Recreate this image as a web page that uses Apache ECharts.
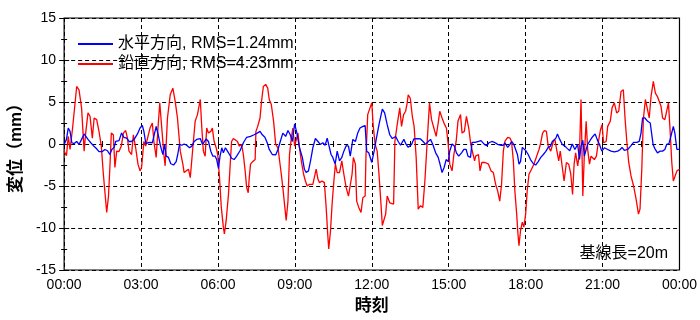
<!DOCTYPE html>
<html>
<head>
<meta charset="utf-8">
<script src="https://cdn.jsdelivr.net/npm/echarts@6/dist/echarts.min.js"></script>
<style>
  html, body { margin: 0; padding: 0; background: #fff; }
  #chart { width: 700px; height: 320px; }
</style>
</head>
<body>
<div id="chart"></div>
<script>
// time in hours from 00:00, displacement in mm
const horizontal = [
  [0.00,-0.05],[0.09,0.55],[0.16,1.9],[0.23,1.5],[0.30,0.15],[0.39,0.05],[0.49,0.3],[0.58,-0.05],[0.68,0.55],[0.78,1.2],
  [0.84,1.1],[0.93,0.55],[1.04,0.15],[1.14,-0.2],[1.23,-0.45],[1.36,-0.9],[1.49,-0.9],[1.59,-0.65],[1.69,-0.8],[1.78,-1.25],
  [1.86,-0.65],[1.95,-0.4],[2.01,0.3],[2.14,0.4],[2.24,1.3],[2.33,0.8],[2.44,0.7],[2.53,0.3],[2.63,0.3],[2.75,0.65],
  [2.86,1.2],[2.96,1.9],[3.05,2.2],[3.11,1.5],[3.19,0.0],[3.27,0.15],[3.35,0.2],[3.44,0.15],[3.50,0.9],[3.59,2.1],
  [3.67,1.1],[3.76,-0.25],[3.85,-1.25],[3.92,-0.05],[3.98,-1.45],[4.07,-1.6],[4.16,-2.35],[4.27,-2.5],[4.37,-2.1],[4.43,-1.25],
  [4.50,-0.05],[4.59,-0.15],[4.68,0.0],[4.78,-0.15],[4.89,-0.45],[4.98,-0.25],[5.07,0.3],[5.17,0.55],[5.31,0.65],[5.40,-0.05],
  [5.46,-0.25],[5.54,0.6],[5.63,0.3],[5.72,-0.85],[5.80,-1.45],[5.89,-1.45],[5.95,-1.85],[6.02,-2.9],[6.08,-1.45],[6.15,-0.45],
  [6.21,-1.05],[6.29,-0.45],[6.37,-0.85],[6.45,-1.25],[6.53,-1.7],[6.63,-1.85],[6.73,-1.45],[6.86,-0.8],[6.99,0.15],[7.12,0.8],
  [7.27,0.9],[7.41,1.1],[7.53,1.3],[7.64,1.5],[7.73,1.1],[7.83,0.8],[7.92,0.15],[8.00,-0.65],[8.12,-1.25],[8.25,-1.3],
  [8.34,-0.65],[8.43,0.3],[8.53,1.3],[8.64,0.9],[8.73,1.6],[8.82,1.1],[8.90,0.3],[8.99,2.4],[9.08,1.3],[9.18,-0.45],
  [9.29,-1.6],[9.37,-3.0],[9.44,-3.4],[9.53,-3.2],[9.61,-2.0],[9.70,-0.45],[9.80,0.65],[9.90,0.3],[9.99,-0.05],[10.09,0.15],
  [10.18,-0.15],[10.26,0.7],[10.32,0.55],[10.41,-1.25],[10.48,-1.6],[10.57,-2.4],[10.65,-0.85],[10.74,-2.0],[10.83,-1.6],[10.91,-0.85],
  [11.00,-0.2],[11.09,-0.25],[11.16,-1.45],[11.26,0.55],[11.36,0.3],[11.45,1.3],[11.54,1.9],[11.65,2.1],[11.74,2.2],[11.80,-0.85],
  [11.88,-1.05],[12.00,-2.2],[12.09,-0.85],[12.18,0.7],[12.28,2.3],[12.41,4.15],[12.50,3.7],[12.60,2.3],[12.70,1.1],[12.80,0.65],
  [12.93,0.9],[13.03,0.3],[13.12,-0.15],[13.25,0.55],[13.34,-0.05],[13.42,-0.4],[13.55,-0.05],[13.64,0.6],[13.77,0.65],[13.90,0.6],
  [14.00,0.3],[14.10,-0.05],[14.20,0.3],[14.29,0.55],[14.38,-0.05],[14.49,-1.05],[14.59,-1.6],[14.66,-2.4],[14.74,-3.4],[14.82,-2.8],
  [14.90,-1.85],[14.98,-2.1],[15.04,-0.85],[15.13,0.0],[15.22,-0.25],[15.30,-1.05],[15.39,-1.45],[15.50,-1.05],[15.59,-0.65],[15.68,-0.65],
  [15.75,-1.45],[15.85,-1.6],[15.91,0.2],[16.03,0.2],[16.16,0.3],[16.26,0.4],[16.31,0.55],[16.39,-0.05],[16.48,-0.2],[16.57,0.15],
  [16.68,0.3],[16.78,0.2],[16.91,-0.05],[17.04,-0.15],[17.13,-0.15],[17.19,0.15],[17.30,-0.4],[17.39,-0.05],[17.45,0.3],[17.54,-0.05],
  [17.61,-0.2],[17.68,-1.25],[17.74,-2.4],[17.80,-2.1],[17.87,-0.4],[17.93,-0.2],[18.01,-0.8],[18.10,-1.25],[18.19,-1.85],[18.30,-2.35],
  [18.39,-2.5],[18.49,-2.1],[18.59,-1.6],[18.69,-1.25],[18.78,-0.9],[18.88,-0.4],[18.97,-0.25],[19.04,0.3],[19.11,0.15],[19.18,0.7],
  [19.24,1.2],[19.33,0.55],[19.43,-0.05],[19.53,-0.25],[19.63,-0.55],[19.72,-0.8],[19.82,0.0],[19.92,-0.65],[19.97,-0.65],[20.03,-0.05],
  [20.10,-1.85],[20.16,-0.25],[20.23,0.45],[20.29,-1.45],[20.36,-0.65],[20.42,-0.05],[20.52,0.45],[20.62,0.9],[20.71,1.2],[20.79,0.55],
  [20.88,-0.05],[20.97,-0.85],[21.07,-0.45],[21.20,-0.65],[21.33,-0.85],[21.46,-0.95],[21.59,-0.85],[21.69,-0.65],[21.76,-0.4],[21.85,-0.75],
  [21.98,-0.65],[22.11,-0.2],[22.21,0.2],[22.34,0.2],[22.43,0.3],[22.50,1.3],[22.56,3.1],[22.65,3.1],[22.76,2.7],[22.86,2.5],
  [22.91,2.7],[22.97,-0.05],[23.04,-0.55],[23.14,-1.05],[23.25,-0.85],[23.34,-0.85],[23.43,-0.65],[23.50,-0.05],[23.59,0.05],[23.68,1.1],
  [23.76,2.1],[23.82,1.3],[23.86,0.3],[23.90,-0.65],[24.00,-0.65]
];

const vertical = [
  [0.00,-0.85],[0.09,-1.4],[0.16,0.9],[0.23,-0.65],[0.33,1.9],[0.42,4.7],[0.49,6.85],[0.58,6.45],[0.68,4.3],[0.78,-0.85],
  [0.84,1.3],[0.93,3.7],[1.01,3.3],[1.10,0.7],[1.17,3.1],[1.27,2.9],[1.36,1.5],[1.45,-0.25],[1.53,-3.6],[1.61,-6.4],
  [1.66,-8.15],[1.73,-6.2],[1.79,-2.4],[1.84,1.3],[1.92,1.1],[1.98,-2.8],[2.05,-0.85],[2.14,-0.9],[2.23,-0.25],[2.31,1.3],
  [2.40,1.6],[2.47,0.7],[2.53,-0.85],[2.63,-1.25],[2.70,1.1],[2.79,-0.45],[2.88,-2.4],[2.96,-3.2],[3.02,-2.8],[3.11,0.3],
  [3.18,-0.25],[3.27,0.9],[3.35,1.9],[3.44,2.5],[3.50,0.3],[3.59,-1.6],[3.66,1.9],[3.73,4.9],[3.80,4.7],[3.89,-1.25],
  [3.94,-2.6],[4.03,3.1],[4.14,5.9],[4.24,6.65],[4.33,5.1],[4.42,3.1],[4.53,-0.85],[4.63,-2.4],[4.68,-3.4],[4.76,-3.2],
  [4.85,-3.0],[4.92,-4.0],[5.02,-0.45],[5.11,2.7],[5.20,3.5],[5.31,5.3],[5.37,1.9],[5.43,-0.85],[5.50,-1.45],[5.56,1.9],
  [5.63,1.3],[5.72,1.5],[5.78,1.9],[5.85,0.3],[5.93,-0.45],[5.99,-1.25],[6.06,-4.0],[6.13,-7.55],[6.21,-9.9],[6.25,-10.7],
  [6.32,-9.1],[6.41,-6.0],[6.47,-2.8],[6.53,0.3],[6.60,0.65],[6.67,0.7],[6.76,0.3],[6.83,-0.25],[6.92,-0.05],[6.99,-1.25],
  [7.06,-3.2],[7.12,-5.2],[7.18,-5.8],[7.22,-4.0],[7.27,-2.4],[7.35,-2.1],[7.45,-1.85],[7.48,1.5],[7.55,2.1],[7.64,3.1],
  [7.70,5.1],[7.77,6.85],[7.86,7.1],[7.94,6.65],[8.00,5.3],[8.08,4.7],[8.17,2.7],[8.25,-0.05],[8.34,-0.45],[8.40,-0.25],
  [8.47,-3.6],[8.53,-5.2],[8.60,-5.4],[8.66,-9.1],[8.73,-6.8],[8.79,-1.25],[8.86,0.7],[8.92,1.9],[8.99,-0.25],[9.05,-0.05],
  [9.12,1.3],[9.18,-0.45],[9.25,-2.0],[9.34,-3.6],[9.41,-4.4],[9.48,-5.0],[9.57,-4.8],[9.64,-5.0],[9.70,-4.8],[9.76,-5.0],
  [9.83,-3.0],[9.90,-4.2],[9.96,-4.6],[10.06,-4.4],[10.15,-4.6],[10.22,-7.55],[10.28,-10.7],[10.32,-12.5],[10.39,-10.3],[10.45,-7.2],
  [10.52,-4.4],[10.58,-2.4],[10.65,-3.4],[10.74,-3.4],[10.83,-2.0],[10.91,-3.6],[11.00,-5.2],[11.09,-6.2],[11.16,-6.4],[11.23,-3.6],
  [11.28,-1.6],[11.36,-2.4],[11.41,-6.8],[11.49,-7.55],[11.58,-8.15],[11.65,-6.4],[11.74,-6.2],[11.77,-1.6],[11.84,3.5],[11.93,4.3],
  [12.00,4.9],[12.05,2.3],[12.13,-0.05],[12.21,-0.85],[12.28,-3.6],[12.35,-6.8],[12.41,-9.7],[12.47,-9.7],[12.54,-8.35],[12.60,-6.2],
  [12.70,-7.0],[12.77,-7.0],[12.85,-7.15],[12.90,0.3],[12.99,2.3],[13.09,4.3],[13.16,2.1],[13.24,3.5],[13.32,3.9],[13.38,4.9],
  [13.42,5.85],[13.50,5.45],[13.58,3.3],[13.65,2.1],[13.73,-1.6],[13.81,-7.75],[13.90,-7.35],[13.99,-7.55],[14.07,-4.4],[14.16,0.3],
  [14.25,4.9],[14.33,2.9],[14.42,1.9],[14.51,0.9],[14.59,2.5],[14.65,3.9],[14.74,3.1],[14.84,2.3],[14.91,1.9],[14.98,-0.05],
  [15.04,-2.4],[15.13,-3.2],[15.20,-1.25],[15.29,0.3],[15.36,2.7],[15.46,3.5],[15.52,1.3],[15.61,1.5],[15.69,3.3],[15.78,1.9],
  [15.86,-0.05],[15.95,-1.25],[16.01,-2.0],[16.05,-1.45],[16.16,-1.25],[16.22,-3.2],[16.29,-2.2],[16.42,-2.2],[16.55,-2.4],[16.65,-3.2],
  [16.74,-3.4],[16.83,-4.8],[16.91,-5.6],[16.99,-6.8],[17.06,-4.8],[17.13,-0.85],[17.19,0.3],[17.30,0.8],[17.39,0.7],[17.45,0.3],
  [17.52,-2.0],[17.58,-5.6],[17.65,-8.35],[17.70,-10.7],[17.74,-12.1],[17.80,-10.3],[17.87,-9.3],[17.93,-9.9],[18.00,-8.35],[18.06,-5.6],
  [18.13,-3.6],[18.23,-3.0],[18.32,-2.4],[18.43,-1.45],[18.52,-0.65],[18.59,0.15],[18.66,1.3],[18.73,1.6],[18.81,1.5],[18.88,-0.25],
  [18.98,-0.85],[19.08,0.3],[19.14,0.55],[19.22,-0.85],[19.29,-2.0],[19.35,-0.85],[19.43,-2.8],[19.50,-4.4],[19.59,-2.2],[19.68,-2.4],
  [19.76,-3.6],[19.83,-6.0],[19.89,-2.4],[19.95,-1.05],[20.03,-2.6],[20.10,-1.05],[20.16,5.3],[20.23,-6.2],[20.29,-1.25],[20.36,2.7],
  [20.42,-0.65],[20.49,-2.4],[20.55,-1.45],[20.62,-1.6],[20.68,-1.85],[20.76,-1.45],[20.84,0.3],[20.92,1.7],[20.98,2.3],[21.04,0.15],
  [21.14,0.3],[21.20,2.1],[21.30,2.7],[21.37,4.3],[21.46,4.9],[21.55,3.7],[21.63,3.9],[21.72,6.25],[21.81,6.45],[21.88,2.9],
  [21.95,0.15],[22.02,-2.2],[22.11,-3.8],[22.21,-5.0],[22.31,-6.6],[22.40,-8.35],[22.46,-7.75],[22.53,-3.0],[22.59,2.9],[22.67,5.3],
  [22.73,5.45],[22.82,3.1],[22.89,5.65],[22.98,7.45],[23.06,6.05],[23.14,5.65],[23.21,5.85],[23.28,4.5],[23.34,3.1],[23.43,2.9],
  [23.50,3.1],[23.57,4.9],[23.64,1.3],[23.70,-2.2],[23.76,-4.4],[23.83,-3.8],[23.90,-3.2],[24.00,-3.0]
];

const seriesNames = ['水平方向, RMS=1.24mm', '鉛直方向, RMS=4.23mm'];
const yTicks = [-15, -10, -5, 0, 5, 10, 15];
const baselineNote = '基線長=20m';

const FONT = "'Liberation Sans', 'Noto Sans CJK JP', sans-serif";
const chart = echarts.init(document.getElementById('chart'), null, { renderer: 'canvas' });

const hourLabel = v => String(Math.round(v) % 24).padStart(2, '0') + ':00';

const tickCommon = {
  axisLine: { show: false },
  axisTick: { show: true, inside: true, length: 5, lineStyle: { color: '#000', width: 1 } },
  minorTick: { show: true, splitNumber: 2, length: 3, lineStyle: { color: '#000', width: 1 } },
};

chart.setOption({
  animation: false,
  textStyle: { fontFamily: FONT },
  grid: { left: 63, right: 20, top: 18, bottom: 49, show: true, borderColor: '#000', borderWidth: 1.2 },
  legend: {
    orient: 'vertical',
    left: 72,
    top: 31,
    itemWidth: 35,
    itemHeight: 16,
    itemGap: 4,
    itemStyle: { opacity: 0 },
    textStyle: { fontSize: 16, color: '#000', fontFamily: FONT },
    data: seriesNames
  },
  xAxis: [{
    type: 'value', min: 0, max: 24, interval: 3,
    ...tickCommon,
    axisLabel: { color: '#000', fontSize: 14, margin: 8, formatter: hourLabel },
    splitLine: { show: true, lineStyle: { color: '#000', type: [4, 3], width: 1 } },
    name: '時刻', nameLocation: 'middle', nameGap: 28,
    nameTextStyle: { fontSize: 17, fontWeight: 'bold', color: '#000' }
  }, {
    type: 'value', min: 0, max: 24, interval: 3, position: 'top',
    ...tickCommon,
    axisLabel: { show: false }, splitLine: { show: false }
  }],
  yAxis: [{
    type: 'value', min: yTicks[0], max: yTicks[yTicks.length - 1], interval: 5,
    ...tickCommon,
    axisLabel: { color: '#000', fontSize: 14, margin: 8 },
    splitLine: { show: true, lineStyle: { color: '#000', type: [4, 3], width: 1 } },
    name: '変位（mm）', nameLocation: 'middle', nameGap: 27,
    nameTextStyle: { fontSize: 17, fontWeight: 'bold', color: '#000' }
  }, {
    type: 'value', min: yTicks[0], max: yTicks[yTicks.length - 1], interval: 5, position: 'right',
    ...tickCommon,
    axisLabel: { show: false }, splitLine: { show: false }
  }],
  graphic: [{
    type: 'text', right: 32, top: 246,
    style: { text: baselineNote, fontSize: 16, fill: '#000', fontFamily: FONT }
  }],
  series: [{
    name: seriesNames[0], type: 'line', data: horizontal,
    symbol: 'none', smooth: false, z: 3,
    lineStyle: { color: '#0000ff', width: 1.3 }, itemStyle: { color: '#0000ff' }
  }, {
    name: seriesNames[1], type: 'line', data: vertical,
    symbol: 'none', smooth: false, z: 2,
    lineStyle: { color: '#ff0000', width: 1.3 }, itemStyle: { color: '#ff0000' }
  }]
});
</script>
</body>
</html>
